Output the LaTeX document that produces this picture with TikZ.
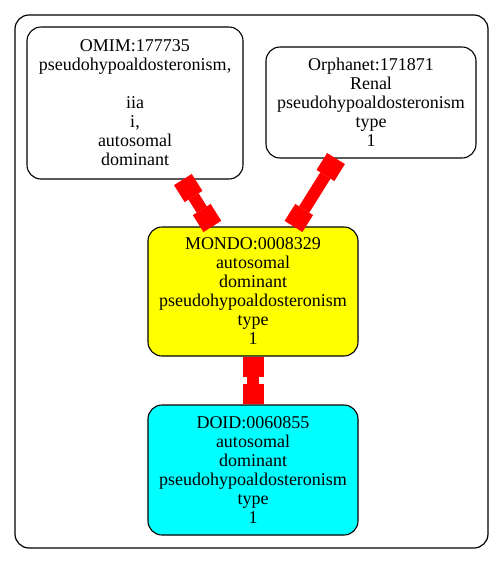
\documentclass[tikz,border=0pt]{standalone}
\usepackage{fontspec}
\setmainfont{Liberation Serif}
\usetikzlibrary{arrows.meta}
\definecolor{linkred}{HTML}{FF0000}
\definecolor{mondofill}{HTML}{FFFF00}
\definecolor{doidfill}{HTML}{00FFFF}
\newcommand{\termbox}[6]{%
  \node[draw=black, line width=1.1pt, rounded corners=14pt, fill=#5,
        minimum width=#3, minimum height=#4, align=center, inner sep=2pt,
        font=\fontsize{18}{19}\selectfont] (#1) at (#2) {#6};}

\begin{document}
\begin{tikzpicture}[x=1pt, y=-1pt,
    linkedge/.style={linkred, line width=12pt,
      {Rectangle[length=20pt, width=21pt, line width=0pt]}-{Rectangle[length=20pt, width=21pt, line width=0pt]}}]
  \useasboundingbox (0,0) rectangle (504,563);
  \draw[line width=1.2pt, rounded corners=14pt] (15,15) rectangle (488,548);
  \termbox{omim}{135,103}{216pt}{152pt}{white}{OMIM:177735\\ pseudohypoaldosteronism,\\[19pt] iia\\ i,\\ autosomal\\ dominant}
  \termbox{orpha}{371,102.5}{210pt}{111pt}{white}{Orphanet:171871\\ Renal\\ pseudohypoaldosteronism\\ type\\ 1}
  \termbox{mondo}{253,291.5}{210pt}{129pt}{mondofill}{MONDO:0008329\\ autosomal\\ dominant\\ pseudohypoaldosteronism\\ type\\ 1}
  \termbox{doid}{253,470}{210pt}{130pt}{doidfill}{DOID:0060855\\ autosomal\\ dominant\\ pseudohypoaldosteronism\\ type\\ 1}
  \draw[linkedge] (omim) -- (mondo);
  \draw[linkedge] (orpha) -- (mondo);
  \draw[linkedge] (mondo) -- (doid);
\end{tikzpicture}
\end{document}
